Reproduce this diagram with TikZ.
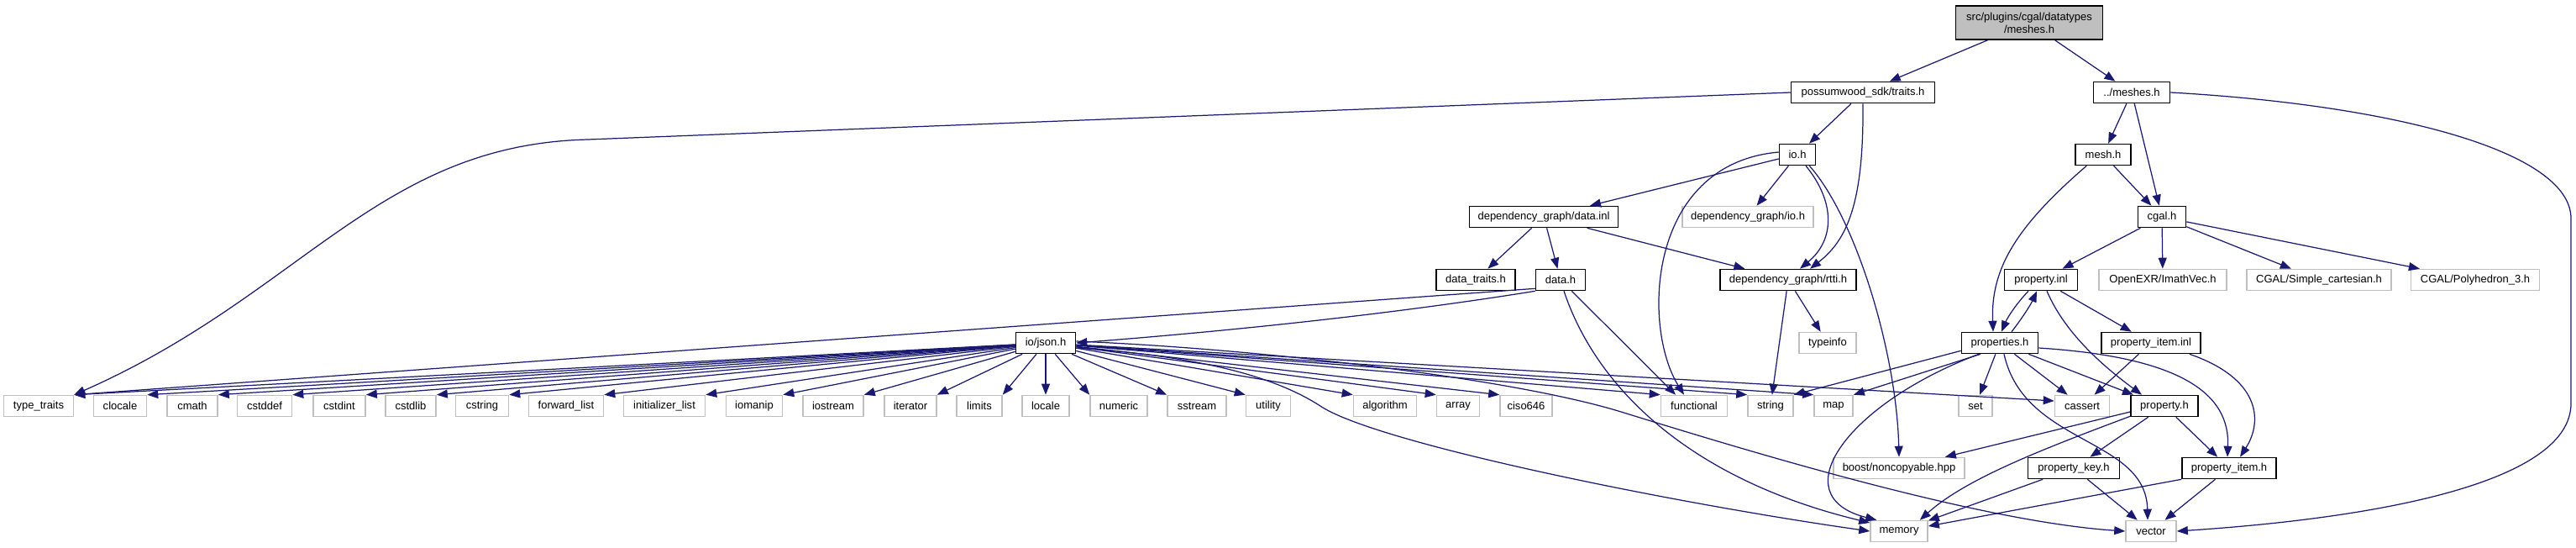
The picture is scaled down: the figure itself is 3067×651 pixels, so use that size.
\documentclass[tikz,border=0pt]{standalone}
\usepackage{fontspec}
\setmainfont{Liberation Sans}
\usetikzlibrary{arrows.meta,calc}
\definecolor{edgeblue}{HTML}{191970}
\definecolor{leafgray}{HTML}{BFBFBF}

\begin{document}
\begin{tikzpicture}[x=0.01cm,y=-0.01cm]
  % Parameters (row heights, in pixels of the graph)
  \def\rowzero{27}
  \def\rowone{110}
  \def\rowtwo{184}
  \def\rowthree{258}
  \def\rowfour{333}
  \def\rowfive{408}
  \def\rowsix{483}
  \def\rowseven{557}
  \def\roweight{632}

  % Styles
  \tikzset{
    hdr/.style={draw=black, line width=0.45pt, fill=white, minimum height=0.25cm,
      inner sep=0pt, font=\fontsize{3.7}{4.3}\selectfont},
    sysfile/.style={hdr, draw=leafgray},
    rootfile/.style={hdr, fill=leafgray, minimum height=0.40cm, align=center},
    wd/.style={minimum width=#1*0.01cm},
    dep/.style={draw=edgeblue, line width=0.35pt,
      -{Triangle[length=0.13cm,width=0.10cm]}}
  }

  \useasboundingbox (0,0) rectangle (3067,651);

  % Project headers
  \node[rootfile, wd=175] (root) at (2416,\rowzero) {src/plugins/cgal/datatypes\\/meshes.h};
  \node[hdr, wd=171] (traits) at (2218,\rowone) {possumwood\_sdk/traits.h};
  \node[hdr, wd=91] (dmeshes) at (2538,\rowone) {../meshes.h};
  \node[hdr, wd=43] (ioh) at (2140,\rowtwo) {io.h};
  \node[hdr, wd=66] (meshh) at (2504,\rowtwo) {mesh.h};
  \node[hdr, wd=177] (datainl) at (1838,\rowthree) {dependency\_graph/data.inl};
  \node[sysfile, wd=156] (dgio) at (2081,\rowthree) {dependency\_graph/io.h};
  \node[hdr, wd=57] (cgalh) at (2574,\rowthree) {cgal.h};
  \node[hdr, wd=94] (datatraits) at (1757,\rowfour) {data\_traits.h};
  \node[hdr, wd=59] (datah) at (1858,\rowfour) {data.h};
  \node[hdr, wd=162] (rtti) at (2129,\rowfour) {dependency\_graph/rtti.h};
  \node[hdr, wd=87] (propinl) at (2430,\rowfour) {property.inl};
  \node[sysfile, wd=152] (imathvec) at (2575,\rowfour) {OpenEXR/ImathVec.h};
  \node[sysfile, wd=172] (simplecart) at (2761,\rowfour) {CGAL/Simple\_cartesian.h};
  \node[sysfile, wd=153] (polyhedron) at (2947,\rowfour) {CGAL/Polyhedron\_3.h};
  \node[hdr, wd=71] (json) at (1245,\rowfive) {io/json.h};
  \node[sysfile, wd=68] (typeinfo) at (2176,\rowfive) {typeinfo};
  \node[hdr, wd=91] (properties) at (2381,\rowfive) {properties.h};
  \node[hdr, wd=118] (propiteminl) at (2561,\rowfive) {property\_item.inl};
  \node[hdr, wd=80] (propertyh) at (2577,\rowsix) {property.h};
  \node[sysfile, wd=156] (noncopyable) at (2261,\rowseven) {boost/noncopyable.hpp};
  \node[hdr, wd=109] (propkey) at (2469,\rowseven) {property\_key.h};
  \node[hdr, wd=112] (propitemh) at (2654,\rowseven) {property\_item.h};
  \node[sysfile, wd=68] (memory) at (2261,\roweight) {memory};
  \node[sysfile, wd=60] (vector) at (2561,\roweight) {vector};

  % System headers on one row
  \foreach \nm/\cx/\wdt/\lbl in {typetraits/46/83/type\_traits, clocale/143/63/clocale,
      cmath/229/60/cmath, cstddef/315/65/cstddef, cstdint/404/62/cstdint,
      cstdlib/489/60/cstdlib, cstring/574/63/cstring, forwardlist/674/89/forward\_list,
      initlist/791/97/initializer\_list, iomanip/898/67/iomanip, iostream/992/72/iostream,
      iterator/1084/62/iterator, limits/1166/54/limits, locale/1245/56/locale,
      numeric/1332/68/numeric, sstream/1425/70/sstream, utility/1510/53/utility,
      algorithm/1649/75/algorithm, array/1736/51/array, ciso646/1817/62/ciso646,
      functional/2017/79/functional, string/2108/54/string, map/2183/46/map,
      set/2352/40/set, cassert/2479/65/cassert} {
    \node[sysfile, wd=\wdt] (\nm) at (\cx,\rowsix) {\lbl};
  }

  % Includes of the root
  \draw[dep] (root) -- (traits);
  \draw[dep] (root) -- (dmeshes);

  % possumwood_sdk/traits.h
  \draw[dep] (traits.west) -- (700,166) .. controls (450,172) and (360,350) .. (typetraits.north east);
  \draw[dep] (traits) -- (ioh);
  \draw[dep] (traits.south) .. controls (2219,240) and (2200,285) .. ($(rtti.north)+(26,0)$);

  % ../meshes.h
  \draw[dep] (dmeshes) -- (meshh);
  \draw[dep] (dmeshes) -- (cgalh);
  \draw[dep] (dmeshes.east) .. controls (2850,125) and (3061,180) .. (3061,260)
    -- (3061,480) .. controls (3061,570) and (2850,615) .. (vector.east);

  % io.h
  \draw[dep] ($(ioh.west)+(0,5)$) -- ($(datainl.north)+(55,0)$);
  \draw[dep] (ioh) -- (dgio);
  \draw[dep] ($(ioh.south)+(10,0)$) .. controls (2185,240) and (2185,285) .. ($(rtti.north)+(14,0)$);
  \draw[dep] ($(ioh.west)+(0,-3)$) .. controls (1960,195) and (1955,390) .. ($(functional.north)+(-12,0)$);
  \draw[dep] ($(ioh.south east)+(-8,0)$) .. controls (2210,260) and (2258,420) .. (noncopyable.north);

  % mesh.h
  \draw[dep] (meshh) -- (cgalh);
  \draw[dep] ($(meshh.south west)+(14,0)$) .. controls (2400,270) and (2370,320) .. ($(properties.north)+(-8,0)$);

  % dependency_graph/data.inl
  \draw[dep] (datainl) -- (datatraits);
  \draw[dep] (datainl) -- (datah);
  \draw[dep] (datainl) -- (rtti);

  % data.h
  \draw[dep] ($(datah.south west)+(0,-3)$) -- (typetraits.north east);
  \draw[dep] (datah.south west) .. controls (1650,375) and (1450,395) .. (json.east);
  \draw[dep] (datah) -- ($(functional.north)+(-22,0)$);
  \draw[dep] ($(datah.south)+(4,0)$) .. controls (1900,460) and (2010,570) .. ($(memory.west)+(0,-10)$);

  % dependency_graph/rtti.h
  \draw[dep] (rtti) -- (typeinfo);
  \draw[dep] (rtti) -- (string);

  % cgal.h
  \draw[dep] (cgalh) -- (propinl);
  \draw[dep] (cgalh) -- (imathvec);
  \draw[dep] (cgalh) -- (simplecart);
  \draw[dep] (cgalh) -- (polyhedron);

  % property.inl
  \draw[dep] ($(propinl.south)+(-15,0)$) .. controls (2400,362) and (2390,378) .. ($(properties.north)+(2,0)$);
  \draw[dep] ($(properties.north)+(14,0)$) .. controls (2408,378) and (2418,362) .. ($(propinl.south)+(-5,0)$);
  \draw[dep] (propinl) -- (propiteminl);
  \draw[dep] ($(propinl.south)+(7,0)$) .. controls (2460,400) and (2510,440) .. ($(propertyh.north)+(-27,0)$);

  % properties.h
  \draw[dep] ($(properties.south west)+(0,-4)$) -- (string.north east);
  \draw[dep] ($(properties.south)+(-23,0)$) -- (map.north east);
  \draw[dep] ($(properties.south)+(-25,0)$) .. controls (2200,480) and (2120,590) .. ($(memory.north west)+(8,0)$);
  \draw[dep] (properties) -- (set);
  \draw[dep] (properties) -- (cassert);
  \draw[dep] ($(properties.south east)+(-12,0)$) -- ($(propertyh.north)+(-37,0)$);
  \draw[dep] ($(properties.east)+(0,6)$) .. controls (2600,425) and (2655,470) .. ($(propitemh.north)+(-2,0)$);
  \draw[dep] ($(properties.south)+(5,0)$) .. controls (2410,530) and (2555,520) .. ($(vector.north)+(-4,0)$);

  % property_item.inl
  \draw[dep] (propiteminl) -- (cassert);
  \draw[dep] ($(propiteminl.south east)+(-14,0)$) .. controls (2690,450) and (2695,500) .. ($(propitemh.north)+(13,0)$);

  % property.h
  \draw[dep] ($(propertyh.west)+(0,7)$) -- ($(noncopyable.north east)+(-24,0)$);
  \draw[dep] ($(propertyh.south west)+(0,-1)$) .. controls (2430,535) and (2340,570) .. ($(memory.north east)+(-10,0)$);
  \draw[dep] (propertyh) -- (propkey);
  \draw[dep] (propertyh) -- (propitemh);

  % property_key.h and property_item.h
  \draw[dep] (propkey) -- (memory);
  \draw[dep] (propkey) -- (vector);
  \draw[dep] (propitemh.south west) -- ($(memory.east)+(0,-6)$);
  \draw[dep] (propitemh) -- (vector);

  % io/json.h
  \foreach \nm in {typetraits,clocale,cmath,cstddef,cstdint,cstdlib,cstring,
      forwardlist,initlist,iomanip,iostream,iterator,limits} {
    \draw[dep] (json) -- (\nm.north east);
  }
  \draw[dep] (json) -- (locale);
  \foreach \nm in {numeric,sstream,utility,algorithm,array,ciso646,functional,string,map} {
    \draw[dep] (json) -- (\nm.north west);
  }
  \draw[dep] (json) -- ($(cassert.west)+(0,-6)$);
  \draw[dep] ($(json.east)+(0,6)$) .. controls (1450,425) and (1530,455) .. (1575,485)
    .. controls (1650,530) and (2000,600) .. (memory.west);
  \draw[dep] ($(json.east)+(0,-2)$) .. controls (1500,415) and (1800,450) .. (1930,490)
    .. controls (2060,530) and (2350,620) .. (vector.west);

\end{tikzpicture}
\end{document}
